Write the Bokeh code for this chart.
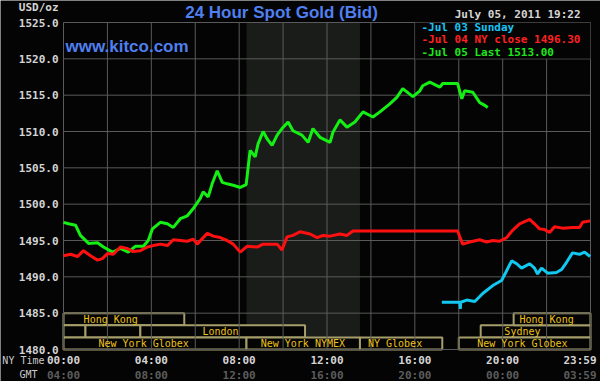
from bokeh.plotting import figure
from bokeh.models import Range1d, Label, BoxAnnotation, ColumnDataSource
from bokeh.core.properties import value
from bokeh.embed import file_html
from bokeh.resources import INLINE

# ---------------- data ----------------
jul05_hours = [0.0, 0.23, 0.55, 0.77, 1.14, 1.55, 1.82, 2.23, 2.59, 2.95, 3.27, 3.64, 3.86, 4.05,
               4.41, 4.73, 5.0, 5.32, 5.64, 5.91, 6.23, 6.36, 6.59, 6.77, 7.0, 7.23, 7.45, 7.73,
               8.05, 8.32, 8.41, 8.5, 8.73, 8.86, 9.09, 9.27, 9.5, 9.73, 9.95, 10.23, 10.45, 10.86,
               11.14, 11.36, 11.68, 12.14, 12.27, 12.59, 12.91, 13.27, 13.64, 14.09, 14.41, 14.86,
               15.18, 15.45, 15.91, 16.23, 16.36, 16.68, 17.14, 17.27, 17.95, 18.14, 18.27, 18.64,
               18.95, 19.18, 19.32]
jul05_price = [1497.5, 1497.3, 1497.1, 1495.7, 1494.6, 1494.7, 1494.1, 1493.4, 1493.9, 1493.4, 1494.2, 1494.2, 1495.0, 1496.6,
               1497.5, 1497.3, 1496.8, 1498.0, 1498.4, 1499.4, 1500.8, 1501.7, 1501.0, 1502.8, 1504.6, 1503.0, 1502.8, 1502.6,
               1502.3, 1502.7, 1505.1, 1507.4, 1506.5, 1508.3, 1510.0, 1509.0, 1508.1, 1509.5, 1510.4, 1511.3, 1510.1, 1509.5,
               1508.5, 1510.4, 1509.2, 1508.5, 1509.9, 1511.6, 1510.6, 1511.3, 1512.7, 1512.0, 1512.7, 1513.8,
               1514.7, 1515.9, 1514.8, 1515.6, 1516.3, 1516.8, 1516.1, 1516.6, 1516.6, 1514.5, 1515.6, 1515.4,
               1514.0, 1513.6, 1513.3]

jul04_hours = [0.0, 0.32, 0.64, 0.91, 1.23, 1.55, 1.77, 2.0, 2.27, 2.59,
               2.91, 3.14, 3.5, 3.82, 4.09, 4.41, 4.73, 5.0, 5.32, 5.64,
               5.91, 6.09, 6.55, 6.82, 7.14, 7.45, 7.73, 8.05, 8.36, 8.82,
               9.09, 9.41, 9.73, 9.95, 10.18, 10.45, 10.77, 11.23, 11.55, 11.82,
               12.14, 12.59, 12.91, 13.18, 13.36, 17.95, 18.05, 18.18, 18.5, 18.95,
               19.27, 19.55, 19.86, 20.18, 20.45, 20.77, 21.23, 21.45, 21.68, 21.91,
               22.14, 22.36, 22.73, 23.18, 23.5, 23.64, 23.98]
jul04_price = [1492.9, 1493.1, 1492.8, 1493.6, 1492.9, 1492.3, 1492.5, 1493.2, 1493.1, 1494.1,
               1493.9, 1493.5, 1493.6, 1494.1, 1494.3, 1494.5, 1494.3, 1495.1, 1495.0, 1494.9,
               1495.2, 1494.5, 1496.0, 1495.6, 1495.4, 1495.0, 1494.5, 1493.4, 1494.2, 1494.1,
               1494.5, 1494.5, 1494.5, 1493.7, 1495.5, 1495.7, 1496.2, 1495.9, 1495.4, 1495.7,
               1495.6, 1495.9, 1495.7, 1496.3, 1496.3, 1496.3, 1495.5, 1494.5, 1494.8, 1495.1,
               1494.8, 1495.0, 1494.9, 1495.4, 1496.4, 1497.3, 1497.9, 1497.3, 1496.6, 1496.5,
               1496.1, 1496.9, 1496.7, 1496.8, 1496.8, 1497.5, 1497.7]

jul03_hours = [17.23, 18.05, 18.07, 18.09, 18.36, 18.73, 19.09, 19.55, 19.95, 20.14, 20.41, 20.64, 20.86,
               21.23, 21.45, 21.59, 21.77, 22.05, 22.45, 22.68, 22.91, 23.18, 23.5, 23.73, 23.98]
jul03_price = [1486.5, 1486.5, 1485.6, 1486.5, 1486.8, 1486.6, 1487.7, 1488.8, 1489.5, 1490.6, 1492.2, 1491.8, 1491.2,
               1491.8, 1491.2, 1490.4, 1491.2, 1490.5, 1490.6, 1491.0, 1492.0, 1493.3, 1493.1, 1493.4, 1492.8]

price_ticks = [1480, 1485, 1490, 1495, 1500, 1505, 1510, 1515, 1520, 1525]
grid_hours = list(range(0, 25, 2))
hour_ticks = [0, 4, 8, 12, 16, 20]
ny_labels = ["00:00", "04:00", "08:00", "12:00", "16:00", "20:00"]
gmt_labels = ["04:00", "08:00", "12:00", "16:00", "20:00", "00:00"]
end_hour = 24
ny_end_label = "23:59"
gmt_end_label = "03:59"

comex_open = [8.333]
comex_close = [13.5]

session_names = ["Hong Kong", "", "", "London", "New York Globex", "New York NYMEX",
                 "NY Globex", "Sydney", "Hong Kong", "New York Globex"]
session_start = [0.0, 0.0, 1.0, 3.5, 0.0, 8.333, 13.5, 19.0, 20.5, 18.0]
session_end = [5.5, 1.0, 3.5, 11.0, 8.333, 13.5, 17.25, 24.0, 24.0, 24.0]
session_row = [0, 1, 1, 1, 2, 2, 2, 1, 0, 2]
session_text_x = [2.15, 0.5, 2.25, 7.15, 3.65, 10.9, 15.1, 20.9, 22.0, 20.9]

legend_texts = ["-Jul 03 Sunday", "-Jul 04 NY close 1496.30", "-Jul 05 Last 1513.00"]

# ---------------- layout / styling ----------------
W, H = 600, 381
BOX_L, BOX_R, BOX_T, BOX_B = 63, 590, 22, 349     # plot box, canvas pixels
XR, YR = (0, 24), (1480, 1525)
ppx = (BOX_R - BOX_L) / (XR[1] - XR[0])
ppy = (BOX_B - BOX_T) / (YR[1] - YR[0])


def X(px):  # canvas pixel -> hours
    return XR[0] + (px - BOX_L) / ppx


def Y(py):  # canvas pixel -> price
    return YR[1] - (py - BOX_T) / ppy


BG = "#040404"
GRID = "#5a5a5a"
MONO = "DejaVu Sans Mono"
LIGHT = "#d4d4d4"
DIM = "#5c5c5c"

p = figure(width=W, height=H, x_range=Range1d(X(0), X(W)), y_range=Range1d(Y(H), Y(0)),
           output_backend="svg", toolbar_location=None,
           x_axis_location=None, y_axis_location=None,
           background_fill_color=BG, border_fill_color=BG, min_border=0)
p.outline_line_color = None
p.grid.visible = False

# COMEX shading
p.quad(left=comex_open, right=comex_close, bottom=[YR[0]], top=[YR[1]],
       fill_color="#1a1c1a", line_color=None, level="image")

# session boxes
row_h = 5.0 / 3.0
src = ColumnDataSource(dict(
    left=session_start, right=session_end,
    top=[1485 - r * row_h for r in session_row],
    bottom=[1485 - (r + 1) * row_h for r in session_row],
    ty=[1485 - (r + 0.5) * row_h for r in session_row],
    tx=session_text_x, name=session_names))
p.quad(left="left", right="right", top="top", bottom="bottom", source=src,
       fill_color=BG, line_color="#a59e6a", line_width=2, level="image")

# grid lines (box outline included)
p.segment(x0=grid_hours, x1=grid_hours, y0=[YR[0]] * len(grid_hours), y1=[YR[1]] * len(grid_hours),
          line_color=GRID, line_width=1, level="underlay")
p.segment(x0=[XR[0]] * len(price_ticks), x1=[XR[1]] * len(price_ticks), y0=price_ticks, y1=price_ticks,
          line_color=GRID, line_width=1, level="underlay")

p.text(x="tx", y="ty", text="name", source=src, text_font=value(MONO), text_font_size="10px",
       text_color="#ecc21a", text_align="center", text_baseline="middle")

# price lines
p.line(jul03_hours, jul03_price, line_color="#10c8f0", line_width=3)
p.line(jul05_hours, jul05_price, line_color="#14f014", line_width=3)
p.line(jul04_hours, jul04_price, line_color="#ff1010", line_width=3)


def txt(x, y, text, size="11px", color=LIGHT, align="left", font=MONO, style="bold"):
    p.text(x=x, y=y, text=text, text_font=value(font), text_font_style=style,
           text_font_size=size, text_color=color, text_align=align, text_baseline="middle")


# y tick labels
txt([X(BOX_L - 5)] * len(price_ticks), price_ticks, ["%.1f" % v for v in price_ticks], align="right")
# x tick labels: NY time and GMT rows
txt(hour_ticks, [Y(BOX_B + 11)] * len(hour_ticks), ny_labels, align="center")
txt(hour_ticks, [Y(BOX_B + 26)] * len(hour_ticks), gmt_labels, color=DIM, align="center")
txt([end_hour + 6 / ppx], [Y(BOX_B + 11)], [ny_end_label], align="right")
txt([end_hour + 6 / ppx], [Y(BOX_B + 26)], [gmt_end_label], color=DIM, align="right")
txt([X(44)], [Y(BOX_B + 11)], ["NY Time"], size="10px", color="#c8c8c8", align="right", style="normal")
txt([X(19)], [Y(BOX_B + 25)], ["GMT"], size="10px", color="#c8c8c8", style="normal")

# header texts
txt([X(BOX_L - 5)], [Y(7)], ["USD/oz"], align="right")
txt([X(281)], [Y(12)], ["24 Hour Spot Gold (Bid)"], size="17px", color="#4f7ff0",
    align="center", font="Liberation Sans")
txt([X(580)], [Y(14)], ["July 05, 2011 19:22"], align="right")
txt([X(65)], [Y(46)], ["www.kitco.com"], size="17px", color="#4f7ff0", font="Liberation Sans")

# legend box
p.add_layout(BoxAnnotation(left=16, right=24, bottom=1520, top=1525, fill_color=BG, fill_alpha=1,
                           line_color=GRID, line_width=1))
legend_colors = ["#19c4f5", "#ff2020", "#1ee61e"]
for t, c, py in zip(legend_texts, legend_colors, [27, 39, 52]):
    p.add_layout(Label(x=X(421), y=Y(py), text=t, text_color=c, text_font=MONO, text_font_style="bold",
                       text_font_size="11px", text_baseline="middle"))

open("out.html", "w").write(file_html(p, INLINE))
